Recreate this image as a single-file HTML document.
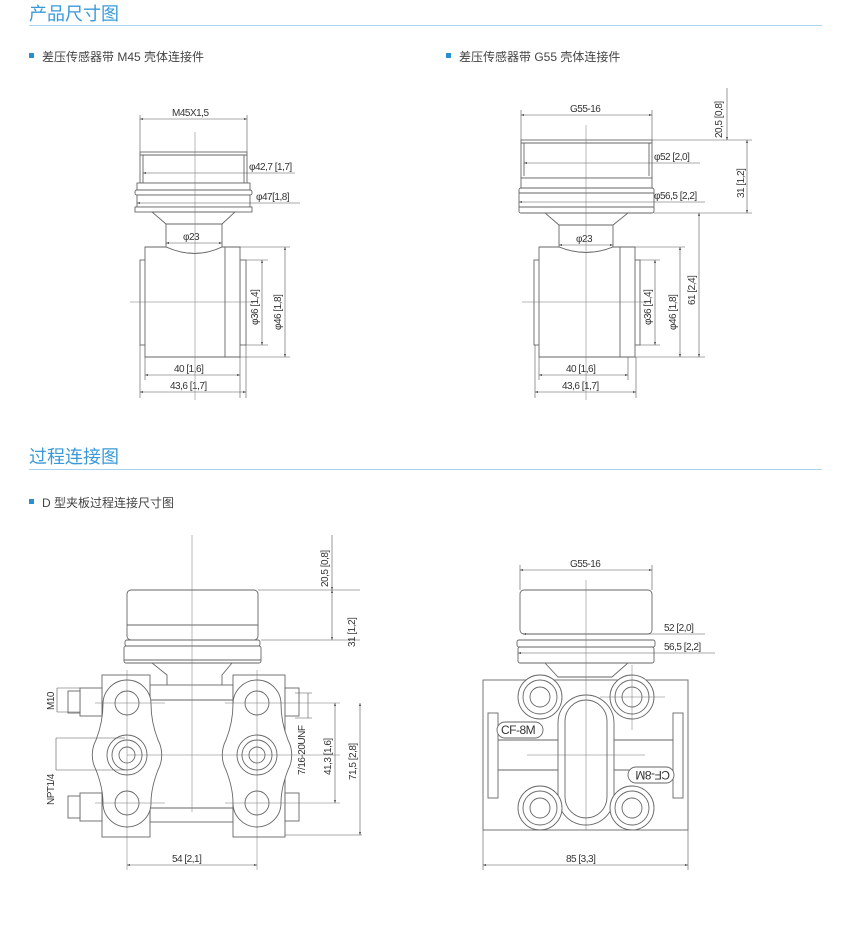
<!DOCTYPE html>
<html><head><meta charset="utf-8"><style>
body{margin:0;background:#fff;}
svg{display:block}
.h{font-family:"Liberation Sans","Noto Sans CJK SC",sans-serif;font-size:18px;fill:#3a9ad9}
.b{font-family:"Liberation Sans","Noto Sans CJK SC",sans-serif;font-size:12px;fill:#444}
.t{font-family:"Liberation Sans","Noto Sans CJK SC",sans-serif;font-size:10px;fill:#333;letter-spacing:-0.5px}
.s{fill:none;stroke:#666;stroke-width:0.9}
.w{fill:#fff;stroke:#666;stroke-width:0.9}
.d{fill:none;stroke:#555;stroke-width:0.6}
.c{fill:none;stroke:#777;stroke-width:0.5}
</style></head><body>
<svg width="850" height="947" viewBox="0 0 850 947" xmlns="http://www.w3.org/2000/svg">
<defs>
<marker id="a" viewBox="0 0 6 6" refX="6" refY="3" markerWidth="5" markerHeight="5" orient="auto-start-reverse"><path d="M0,1 L6,3 L0,5z" fill="#444"/></marker>
</defs>
<text class="h" x="29" y="20">产品尺寸图</text>
<line x1="29" y1="25.5" x2="822" y2="25.5" stroke="#a8d4f0" stroke-width="1"/>
<rect x="29" y="53" width="5" height="5" fill="#2a8fd0"/>
<text class="b" x="42" y="61">差压传感器带 M45 壳体连接件</text>
<rect x="446" y="53" width="5" height="5" fill="#2a8fd0"/>
<text class="b" x="459" y="61">差压传感器带 G55 壳体连接件</text>

<!-- Top left drawing -->
<g>
<line class="d" x1="140" y1="115" x2="140" y2="152"/><line class="d" x1="247" y1="115" x2="247" y2="152"/>
<line class="d" x1="140" y1="119" x2="247" y2="119" marker-start="url(#a)" marker-end="url(#a)"/>
<text class="t" x="172" y="116">M45X1,5</text>
<rect class="w" x="140" y="152" width="107" height="31"/>
<line class="s" x1="140" y1="155" x2="247" y2="155"/>
<line class="s" x1="143" y1="155" x2="143" y2="183"/><line class="s" x1="244" y1="155" x2="244" y2="183"/>
<line class="d" x1="143" y1="173" x2="295" y2="173" marker-start="url(#a)"/>
<text class="t" x="249" y="170">φ42,7 [1,7]</text>
<rect class="w" x="137" y="183" width="113" height="7"/>
<rect class="w" x="135" y="190" width="117" height="5" rx="2"/>
<rect class="w" x="137" y="195" width="113" height="12"/>
<line class="d" x1="137" y1="203" x2="300" y2="203" marker-start="url(#a)"/>
<text class="t" x="256" y="200">φ47[1,8]</text>
<rect class="w" x="135" y="207" width="117" height="5"/>
<path class="w" d="M152,212 L235,212 L222,224 L166,224 Z"/>
<path class="w" d="M166,224 L222,224 L222,247 Q195,260 166,247 Z"/>
<line class="d" x1="166" y1="243" x2="222" y2="243" marker-start="url(#a)" marker-end="url(#a)"/>
<text class="t" x="183" y="240">φ23</text>
<rect class="w" x="140" y="260" width="6" height="85"/>
<rect class="w" x="240" y="260" width="6" height="85"/>
<path class="w" d="M145,247 L166,247 Q195,260 222,247 L240,247 L240,357 L145,357 Z"/>
<line class="s" x1="225" y1="247" x2="225" y2="357"/>
<line class="d" x1="246" y1="260" x2="268" y2="260"/><line class="d" x1="246" y1="345" x2="268" y2="345"/>
<line class="d" x1="262" y1="260" x2="262" y2="345" marker-start="url(#a)" marker-end="url(#a)"/>
<line class="d" x1="240" y1="247" x2="290" y2="247"/><line class="d" x1="240" y1="357" x2="290" y2="357"/>
<line class="d" x1="285" y1="247" x2="285" y2="357" marker-start="url(#a)" marker-end="url(#a)"/>
<text class="t" transform="translate(258,325) rotate(-90)">φ36 [1,4]</text>
<text class="t" transform="translate(281,330) rotate(-90)">φ46 [1,8]</text>
<line class="d" x1="145" y1="357" x2="145" y2="380"/><line class="d" x1="240" y1="357" x2="240" y2="398"/>
<line class="d" x1="140" y1="345" x2="140" y2="398"/><line class="d" x1="246" y1="345" x2="246" y2="398"/>
<line class="d" x1="145" y1="375" x2="240" y2="375" marker-start="url(#a)" marker-end="url(#a)"/>
<line class="d" x1="140" y1="392" x2="246" y2="392" marker-start="url(#a)" marker-end="url(#a)"/>
<text class="t" x="174" y="372">40 [1,6]</text>
<text class="t" x="170" y="389">43,6 [1,7]</text>
<line class="c" x1="195" y1="132" x2="195" y2="400"/>
<line class="c" x1="130" y1="302" x2="255" y2="302"/>
</g>

<!-- Top right drawing -->
<g>
<line class="d" x1="521" y1="110" x2="521" y2="140"/><line class="d" x1="652" y1="110" x2="652" y2="140"/>
<line class="d" x1="521" y1="115" x2="652" y2="115" marker-start="url(#a)" marker-end="url(#a)"/>
<text class="t" x="570" y="112">G55-16</text>
<rect class="w" x="521" y="140" width="131" height="38"/>
<line class="s" x1="521" y1="143" x2="652" y2="143"/>
<line class="s" x1="524" y1="143" x2="524" y2="176"/><line class="s" x1="649" y1="143" x2="649" y2="176"/>
<line class="d" x1="524" y1="163" x2="700" y2="163" marker-start="url(#a)"/>
<text class="t" x="654" y="160">φ52 [2,0]</text>
<rect class="w" x="521" y="178" width="131" height="10"/>
<rect class="w" x="519" y="188" width="135" height="25" rx="2"/>
<line class="s" x1="519" y1="193" x2="654" y2="193"/>
<line class="s" x1="519" y1="207" x2="654" y2="207"/>
<line class="d" x1="519" y1="202" x2="705" y2="202" marker-start="url(#a)"/>
<text class="t" x="654" y="199">φ56,5 [2,2]</text>
<path class="w" d="M545,213 L628,213 L613,225 L559,225 Z"/>
<path class="w" d="M559,225 L613,225 L613,247 Q586,258 559,247 Z"/>
<line class="d" x1="559" y1="245" x2="613" y2="245" marker-start="url(#a)" marker-end="url(#a)"/>
<text class="t" x="576" y="242">φ23</text>
<rect class="w" x="534" y="260" width="6" height="85"/>
<rect class="w" x="634" y="260" width="6" height="85"/>
<path class="w" d="M539,247 L559,247 Q586,258 613,247 L635,247 L635,357 L539,357 Z"/>
<line class="s" x1="620" y1="247" x2="620" y2="357"/>
<line class="d" x1="640" y1="260" x2="660" y2="260"/><line class="d" x1="640" y1="345" x2="660" y2="345"/>
<line class="d" x1="655" y1="260" x2="655" y2="345" marker-start="url(#a)" marker-end="url(#a)"/>
<line class="d" x1="635" y1="247" x2="685" y2="247"/><line class="d" x1="635" y1="357" x2="705" y2="357"/>
<line class="d" x1="680" y1="247" x2="680" y2="357" marker-start="url(#a)" marker-end="url(#a)"/>
<text class="t" transform="translate(651,325) rotate(-90)">φ36 [1,4]</text>
<text class="t" transform="translate(676,330) rotate(-90)">φ46 [1,8]</text>
<line class="d" x1="652" y1="140" x2="752" y2="140"/>
<line class="d" x1="654" y1="213" x2="752" y2="213"/>
<line class="d" x1="727" y1="88" x2="727" y2="140" marker-end="url(#a)"/>
<line class="d" x1="747" y1="140" x2="747" y2="213" marker-start="url(#a)" marker-end="url(#a)"/>
<line class="d" x1="699" y1="213" x2="699" y2="357" marker-start="url(#a)" marker-end="url(#a)"/>
<text class="t" transform="translate(722,138) rotate(-90)">20,5 [0,8]</text>
<text class="t" transform="translate(744,198) rotate(-90)">31 [1,2]</text>
<text class="t" transform="translate(695,305) rotate(-90)">61 [2,4]</text>
<line class="d" x1="539" y1="357" x2="539" y2="380"/><line class="d" x1="628" y1="357" x2="628" y2="380"/>
<line class="d" x1="535" y1="345" x2="535" y2="398"/><line class="d" x1="636" y1="357" x2="636" y2="398"/>
<line class="d" x1="539" y1="375" x2="628" y2="375" marker-start="url(#a)" marker-end="url(#a)"/>
<line class="d" x1="535" y1="392" x2="636" y2="392" marker-start="url(#a)" marker-end="url(#a)"/>
<text class="t" x="566" y="372">40 [1,6]</text>
<text class="t" x="562" y="389">43,6 [1,7]</text>
<line class="c" x1="586" y1="125" x2="586" y2="400"/>
<line class="c" x1="522" y1="302" x2="648" y2="302"/>
</g>

<text class="h" x="29" y="463">过程连接图</text>
<line x1="29" y1="469.5" x2="822" y2="469.5" stroke="#a8d4f0" stroke-width="1"/>
<rect x="29" y="499" width="5" height="5" fill="#2a8fd0"/>
<text class="b" x="42" y="507">D 型夹板过程连接尺寸图</text>

<!-- Bottom left -->
<g>
<rect class="w" x="127" y="590" width="131" height="50" rx="4"/>
<line class="s" x1="127" y1="625" x2="258" y2="625"/>
<rect class="w" x="125" y="640" width="135" height="6" rx="2"/>
<rect class="w" x="124" y="646" width="137" height="17" rx="2"/>
<line class="s" x1="124" y1="660" x2="261" y2="660"/>
<path class="w" d="M152,663 L232,663 L222,675 L222,690 L167,690 L167,675 Z"/>
<rect class="w" x="150" y="685" width="83" height="137"/>
<line class="s" x1="150" y1="700" x2="233" y2="700"/><line class="s" x1="150" y1="808" x2="233" y2="808"/>
<!-- left flange -->
<rect class="w" x="102" y="675" width="48" height="162"/>
<rect class="w" x="80" y="688" width="22" height="28"/><rect class="w" x="68" y="691" width="12" height="22"/>
<rect class="w" x="80" y="793" width="22" height="28"/><rect class="w" x="68" y="796" width="12" height="22"/>
<path class="w" d="M127,680 A24,24 0 0 1 151,704 Q151,722 158,740 A32,32 0 0 1 158,770 Q151,788 151,803 A24,24 0 0 1 103,803 Q103,788 96,770 A32,32 0 0 1 96,740 Q103,722 103,704 A24,24 0 0 1 127,680 Z"/>
<circle class="s" cx="127" cy="703" r="12"/><circle class="s" cx="127" cy="803" r="12"/>
<circle class="s" cx="127" cy="755" r="20"/><circle class="s" cx="127" cy="755" r="15"/><circle class="s" cx="127" cy="755" r="8"/>
<!-- right flange -->
<rect class="w" x="233" y="675" width="52" height="162"/>
<rect class="w" x="285" y="688" width="14" height="28"/><rect class="w" x="285" y="793" width="14" height="28"/>
<path class="w" d="M257,680 A24,24 0 0 1 281,704 Q281,722 288,740 A32,32 0 0 1 288,770 Q281,788 281,803 A24,24 0 0 1 233,803 Q233,788 226,770 A32,32 0 0 1 226,740 Q233,722 233,704 A24,24 0 0 1 257,680 Z"/>
<circle class="s" cx="257" cy="703" r="12"/><circle class="s" cx="257" cy="803" r="12"/>
<circle class="s" cx="257" cy="755" r="20"/><circle class="s" cx="257" cy="755" r="15"/><circle class="s" cx="257" cy="755" r="8"/>
<!-- centerlines -->
<line class="c" x1="192" y1="535" x2="192" y2="812"/>
<line class="c" x1="127" y1="670" x2="127" y2="870"/><line class="c" x1="257" y1="670" x2="257" y2="870"/>
<line class="c" x1="95" y1="703" x2="165" y2="703"/><line class="c" x1="225" y1="703" x2="340" y2="703"/>
<line class="c" x1="95" y1="803" x2="165" y2="803"/><line class="c" x1="225" y1="803" x2="340" y2="803"/>
<line class="c" x1="127" y1="755" x2="340" y2="755"/>
<!-- dims -->
<line class="d" x1="258" y1="590" x2="360" y2="590"/><line class="d" x1="261" y1="640" x2="360" y2="640"/>
<line class="d" x1="285" y1="835" x2="362" y2="835"/>
<line class="d" x1="332" y1="535" x2="332" y2="590" marker-end="url(#a)"/>
<line class="d" x1="332" y1="590" x2="332" y2="640" marker-start="url(#a)" marker-end="url(#a)"/>
<text class="t" transform="translate(328,587) rotate(-90)">20,5 [0,8]</text>
<text class="t" transform="translate(355,647) rotate(-90)">31 [1,2]</text>
<line class="d" x1="295" y1="693" x2="312" y2="693"/><line class="d" x1="295" y1="718" x2="312" y2="718"/>
<line class="d" x1="308" y1="693" x2="308" y2="718"/>
<text class="t" transform="translate(305,775) rotate(-90)">7/16-20UNF</text>
<line class="d" x1="335" y1="703" x2="335" y2="803" marker-start="url(#a)" marker-end="url(#a)"/>
<text class="t" transform="translate(331,775) rotate(-90)">41,3 [1,6]</text>
<line class="d" x1="360" y1="703" x2="360" y2="835" marker-start="url(#a)" marker-end="url(#a)"/>
<text class="t" transform="translate(356,780) rotate(-90)">71,5 [2,8]</text>
<line class="d" x1="127" y1="865" x2="257" y2="865" marker-start="url(#a)" marker-end="url(#a)"/>
<text class="t" x="172" y="862">54 [2,1]</text>
<line class="d" x1="57" y1="688" x2="80" y2="688"/><line class="d" x1="57" y1="712" x2="80" y2="712"/>
<line class="d" x1="57" y1="688" x2="57" y2="712"/>
<text class="t" transform="translate(54,710) rotate(-90)">M10</text>
<line class="d" x1="56" y1="738" x2="125" y2="738"/><line class="d" x1="56" y1="770" x2="125" y2="770"/>
<line class="d" x1="56" y1="738" x2="56" y2="770"/>
<text class="t" transform="translate(54,805) rotate(-90)">NPT1/4</text>
</g>

<!-- Bottom right -->
<g>
<line class="d" x1="520" y1="565" x2="520" y2="590"/><line class="d" x1="652" y1="565" x2="652" y2="590"/>
<line class="d" x1="520" y1="570" x2="652" y2="570" marker-start="url(#a)" marker-end="url(#a)"/>
<text class="t" x="570" y="567">G55-16</text>
<rect class="w" x="520" y="590" width="132" height="44" rx="4"/>
<line class="d" x1="523" y1="634" x2="705" y2="634" marker-start="url(#a)"/>
<text class="t" x="664" y="631">52 [2,0]</text>
<rect class="w" x="517" y="640" width="138" height="7" rx="2"/>
<rect class="w" x="518" y="647" width="136" height="16" rx="2"/>
<line class="d" x1="518" y1="653" x2="715" y2="653" marker-start="url(#a)"/>
<text class="t" x="664" y="650">56,5 [2,2]</text>
<path class="w" d="M545,663 L628,663 L612,677 L558,677 Z"/>
<rect class="w" x="483" y="680" width="205" height="150"/>
<rect class="s" x="488" y="713" width="10" height="85"/><rect class="s" x="673" y="713" width="10" height="85"/>
<line class="s" x1="498" y1="740" x2="673" y2="740"/><line class="s" x1="498" y1="770" x2="673" y2="770"/>
<rect class="w" x="558" y="695" width="56" height="130" rx="28"/>
<rect class="s" x="565" y="700" width="42" height="118" rx="21"/>
<circle class="w" cx="540" cy="697" r="22"/><circle class="s" cx="540" cy="697" r="17"/><circle class="s" cx="540" cy="697" r="10"/>
<circle class="w" cx="632" cy="697" r="22"/><circle class="s" cx="632" cy="697" r="17"/><circle class="s" cx="632" cy="697" r="10"/>
<circle class="w" cx="540" cy="808" r="22"/><circle class="s" cx="540" cy="808" r="17"/><circle class="s" cx="540" cy="808" r="10"/>
<circle class="w" cx="632" cy="808" r="22"/><circle class="s" cx="632" cy="808" r="17"/><circle class="s" cx="632" cy="808" r="10"/>
<rect class="w" x="497" y="722" width="46" height="16" rx="8"/>
<text class="t" x="501" y="734" style="font-size:12px">CF-8M</text>
<rect class="w" x="628" y="767" width="46" height="16" rx="8"/>
<text class="t" transform="translate(670,771) rotate(180)" style="font-size:12px">CF-8M</text>
<line class="c" x1="586" y1="580" x2="586" y2="830"/>
<line class="c" x1="527" y1="755" x2="645" y2="755"/>
<line class="c" x1="632" y1="665" x2="632" y2="730"/><line class="c" x1="600" y1="697" x2="665" y2="697"/>
<line class="d" x1="483" y1="830" x2="483" y2="870"/><line class="d" x1="688" y1="830" x2="688" y2="870"/>
<line class="d" x1="483" y1="865" x2="688" y2="865" marker-start="url(#a)" marker-end="url(#a)"/>
<text class="t" x="566" y="862">85 [3,3]</text>
</g>
</svg>
</body></html>
